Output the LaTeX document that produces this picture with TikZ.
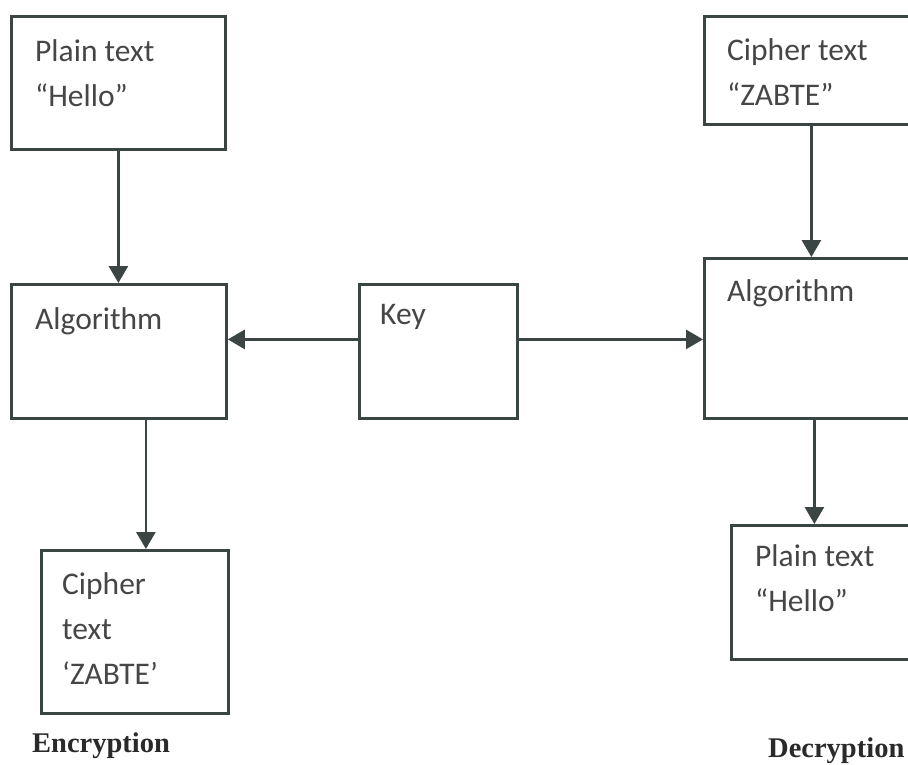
\documentclass[tikz,border=0pt]{standalone}
\usepackage{fontspec}
\setmainfont{Carlito}
\newfontfamily\captionfont{Liberation Serif}
\usepackage{xcolor}
\usetikzlibrary{positioning, arrows.meta}
\definecolor{linegray}{HTML}{3A4544}
\definecolor{textgray}{HTML}{464646}
\definecolor{captiongray}{HTML}{2A2A2A}

\tikzset{
  box/.style={draw=linegray, line width=2.8pt, anchor=north west, inner sep=0pt},
  boxtext/.style={inner sep=0pt, align=left, text=textgray,
                  font=\fontsize{31.5}{45}\selectfont},
  arr/.style={draw=linegray, line width=2.8pt, -{Triangle[length=17pt, width=19pt]}},
  caption/.style={anchor=base west, inner sep=0pt, text=captiongray,
                  font=\captionfont\bfseries\fontsize{28.5}{30}\selectfont}
}

\begin{document}
\begin{tikzpicture}[x=1pt, y=-1pt]
    \useasboundingbox (0,0) rectangle (908,764);
    \clip (0,0) rectangle (908,764);

    % encryption side
    \node[box, minimum width=214pt, minimum height=133pt] (plainL) at (10,15) {};
    \node[box, minimum width=215pt, minimum height=134pt] (algL) at (10,283) {};
    \node[box, minimum width=187pt, minimum height=163pt] (cipherL) at (40,549) {};

    % key in the middle
    \node[box, minimum width=158pt, minimum height=134pt] (key) at (358,283) {};

    % decryption side
    \node[box, minimum width=220pt, minimum height=108pt] (cipherR) at (703,15) {};
    \node[box, minimum width=220pt, minimum height=160pt] (algR) at (703,257) {};
    \node[box, minimum width=220pt, minimum height=134pt] (plainR) at (730,524) {};

    % texts
    \node[boxtext, below right=24pt and 25pt of plainL.north west] (plainLtext) {Plain text\\“Hello”};
    \node[boxtext, below right=24pt and 25pt of algL.north west] (algLtext) {Algorithm};
    \node[boxtext, below right=23pt and 22pt of cipherL.north west] (cipherLtext) {Cipher\\text\\‘ZABTE’};
    \node[boxtext, below right=21pt and 22pt of key.north west] (keytext) {Key};
    \node[boxtext, below right=23pt and 24pt of cipherR.north west] (cipherRtext) {Cipher text\\“ZABTE”};
    \node[boxtext, below right=22pt and 24pt of algR.north west] (algRtext) {Algorithm};
    \node[boxtext, below right=20pt and 25pt of plainR.north west] (plainRtext) {Plain text\\“Hello”};

    \node[caption] (enc) at (32,752) {Encryption};
    \node[caption] (dec) at (768,757) {Decryption};

    % arrows
    \draw[arr] (plainL.south) -- (plainL.south |- algL.north);
    \draw[arr] ([yshift=12pt]key.west) -- ([yshift=12pt]key.west -| algL.east);
    \draw[arr] ([yshift=12pt]key.east) -- ([yshift=12pt]key.east -| algR.west);
    \draw[arr] ([xshift=27pt]algL.south) -- ([xshift=27pt]algL.south |- cipherL.north);
    \draw[arr] ([xshift=-3pt]cipherR.south) -- ([xshift=-3pt]cipherR.south |- algR.north);
    \draw[arr] (algR.south) -- (algR.south |- plainR.north);
\end{tikzpicture}
\end{document}
